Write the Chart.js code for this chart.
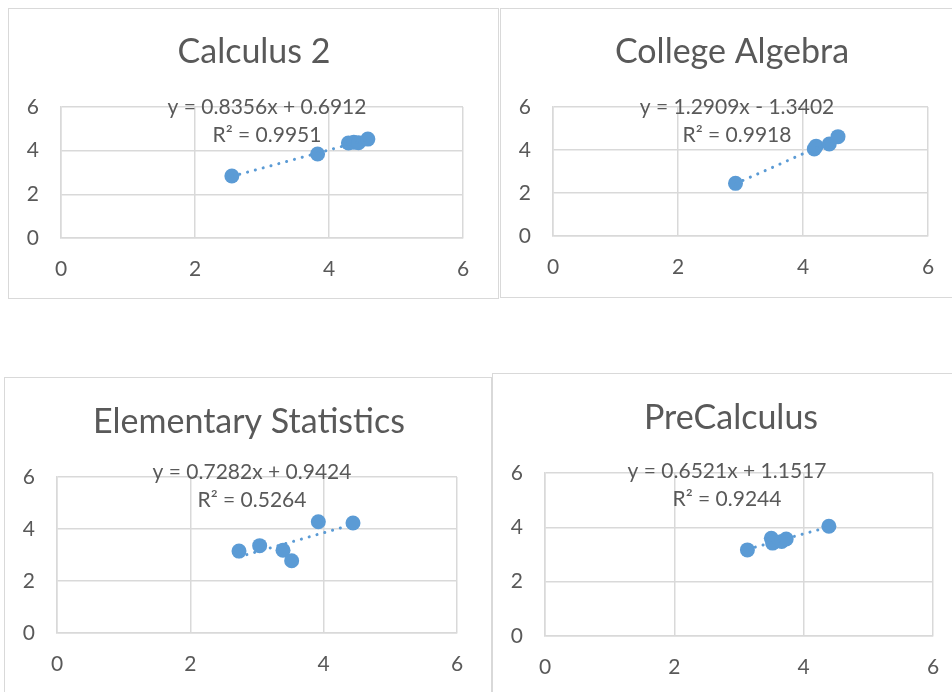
<!DOCTYPE html>
<html>
<head>
<meta charset="utf-8">
<script src="https://cdn.jsdelivr.net/npm/chart.js@4.4.1/dist/chart.umd.min.js"></script>
<style>
  html, body { margin: 0; padding: 0; background: #fff; }
  body { width: 952px; height: 692px; overflow: hidden; position: relative; }
  .box { position: absolute; border: 1px solid #d9d9d9; background: #fff; }
  .box canvas { display: block; }
</style>
</head>
<body>
<script>
// Data
const tickValues = [0, 2, 4, 6];
const titles = ['Calculus 2', 'College Algebra', 'Elementary Statistics', 'PreCalculus'];

const calc2X = [2.55, 3.83, 4.29, 4.37, 4.44, 4.58];
const calc2Y = [2.84, 3.85, 4.35, 4.38, 4.36, 4.53];
const algebraX = [2.92, 4.18, 4.21, 4.42, 4.56];
const algebraY = [2.45, 4.05, 4.18, 4.28, 4.62];
const statsX = [2.73, 3.04, 3.39, 3.52, 3.92, 4.44];
const statsY = [3.15, 3.36, 3.18, 2.78, 4.28, 4.23];
const precalcX = [3.13, 3.50, 3.52, 3.66, 3.73, 4.39];
const precalcY = [3.17, 3.60, 3.42, 3.48, 3.57, 4.04];

const slopes = [0.8356, 1.2909, 0.7282, 0.6521];
const intercepts = [0.6912, -1.3402, 0.9424, 1.1517];
const rSquared = [0.9951, 0.9918, 0.5264, 0.9244];

const seriesX = [calc2X, algebraX, statsX, precalcX];
const seriesY = [calc2Y, algebraY, statsY, precalcY];

// Page layout of each panel (page pixels)
const panels = [
  { box: [8, 8, 491, 291], plot: [61, 107, 463, 238], title: [254, 52], eq: [267, 107] },
  { box: [500, 8, 470, 290], plot: [553, 107, 928, 236], title: [732, 52], eq: [737, 107] },
  { box: [4, 377, 488, 330], plot: [57, 477, 457, 633], title: [249, 422], eq: [252, 472] },
  { box: [492, 373, 480, 330], plot: [545, 473, 933, 636], title: [731, 418], eq: [727, 471] }
];

const blue = '#5B9BD5';
const textColor = '#595959';
const gridColor = '#d9d9d9';
const fontFamily = 'Lato, "Open Sans", sans-serif';
const Y_AXIS_W = 40;
const X_AXIS_H = 44;

function equationText(i) {
  const b = intercepts[i];
  const sign = b < 0 ? ' - ' : ' + ';
  return 'y = ' + slopes[i].toFixed(4) + 'x' + sign + Math.abs(b).toFixed(4);
}

// draws the title and trendline equation
const panelText = {
  id: 'panelText',
  afterDraw(chart, args, opts) {
    const ctx = chart.ctx;
    ctx.save();
    ctx.fillStyle = textColor;
    ctx.textAlign = 'center';
    ctx.textBaseline = 'middle';
    ctx.font = '34px ' + fontFamily;
    ctx.fillText(opts.title, opts.titleX, opts.titleY);
    ctx.font = '21px ' + fontFamily;
    ctx.fillText(opts.eq, opts.eqX, opts.eqY);
    ctx.fillText(opts.r2, opts.eqX, opts.eqY + 28);
    ctx.restore();
  }
};

panels.forEach(function(p, i) {
  const div = document.createElement('div');
  div.className = 'box';
  div.style.left = p.box[0] + 'px';
  div.style.top = p.box[1] + 'px';
  const cw = p.box[2] - 2, ch = p.box[3] - 2;
  const canvas = document.createElement('canvas');
  canvas.width = cw;
  canvas.height = ch;
  canvas.style.width = cw + 'px';
  canvas.style.height = ch + 'px';
  div.appendChild(canvas);
  document.body.appendChild(div);

  const ox = p.box[0] + 1, oy = p.box[1] + 1;
  const xs = seriesX[i], ys = seriesY[i];
  const points = xs.map(function(x, k) { return { x: x, y: ys[k] }; });
  const xMin = Math.min.apply(null, xs), xMax = Math.max.apply(null, xs);
  const trend = [xMin, xMax].map(function(x) {
    return { x: x, y: slopes[i] * x + intercepts[i] };
  });

  const axis = function(fitKey, fitVal, pad) {
    return {
      type: 'linear',
      min: 0,
      max: 6,
      afterBuildTicks: function(scale) {
        scale.ticks = tickValues.map(function(v) { return { value: v }; });
      },
      afterFit: function(scale) { scale[fitKey] = fitVal; },
      grid: { color: gridColor, lineWidth: 1.5, drawTicks: false },
      border: { color: gridColor, width: 1.5 },
      ticks: {
        color: textColor,
        padding: pad,
        font: { family: fontFamily, size: 21 }
      }
    };
  };

  new Chart(canvas.getContext('2d'), {
    type: 'scatter',
    data: {
      datasets: [{
        type: 'line',
        data: trend,
        borderColor: blue,
        borderWidth: 3,
        borderDash: [0.1, 8],
        borderCapStyle: 'round',
        pointRadius: 0,
        fill: false,
        order: 0
      }, {
        data: points,
        backgroundColor: blue,
        borderWidth: 0,
        pointRadius: 7.5,
        pointHoverRadius: 7.5,
        order: 1
      }]
    },
    options: {
      responsive: false,
      animation: false,
      events: [],
      layout: {
        padding: {
          left: p.plot[0] - ox - Y_AXIS_W,
          top: p.plot[1] - oy,
          right: ox + cw - p.plot[2],
          bottom: oy + ch - p.plot[3] - X_AXIS_H
        }
      },
      scales: {
        x: axis('height', X_AXIS_H, 19),
        y: axis('width', Y_AXIS_W, 22)
      },
      plugins: {
        legend: { display: false },
        tooltip: { enabled: false },
        panelText: {
          title: titles[i],
          titleX: p.title[0] - ox,
          titleY: p.title[1] - oy,
          eq: equationText(i),
          r2: 'R² = ' + rSquared[i].toFixed(4),
          eqX: p.eq[0] - ox,
          eqY: p.eq[1] - oy
        }
      }
    },
    plugins: [panelText]
  });
});
</script>
</body>
</html>
